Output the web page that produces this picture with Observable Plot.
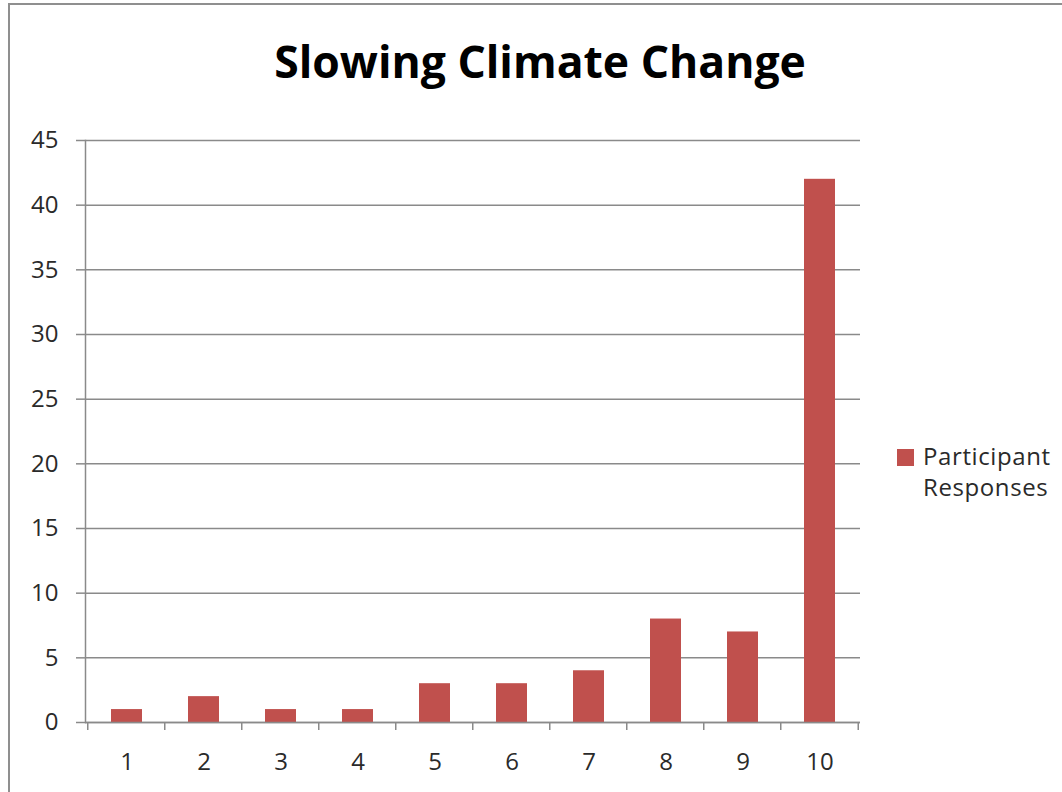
<!DOCTYPE html>
<html>
<head>
<meta charset="utf-8">
<script src="https://cdn.jsdelivr.net/npm/d3@7"></script>
<script src="https://cdn.jsdelivr.net/npm/@observablehq/plot@0.6"></script>
<style>
  html, body { margin: 0; padding: 0; background: #fff; }
  #wrap { position: relative; width: 1062px; height: 792px; overflow: hidden; background: #fff; font-family: "Open Sans", sans-serif; }
  #border { position: absolute; left: 8px; top: 3px; width: 1200px; height: 1000px; border: 2px solid #8f8f8f; box-sizing: border-box; }
  #title { position: absolute; left: 0; width: 1080px; top: 39px; text-align: center; font-size: 44.5px; font-weight: 700; color: #000; line-height: 1; }
  #legend { position: absolute; left: 897px; top: 440px; font-size: 24px; color: #2a2a2a; line-height: 31px; letter-spacing: 0.6px; }
  #legend .sw { position: absolute; left: 0; top: 9px; width: 17px; height: 17px; background: #C0504D; }
  #legend .tx { margin-left: 26px; }
  #chart { position: absolute; left: 0; top: 0; }
</style>
</head>
<body>
<div id="wrap">
  <div id="chart"></div>
  <div id="border"></div>
  <div id="title">Slowing Climate Change</div>
  <div id="legend"><div class="sw"></div><div class="tx">Participant<br>Responses</div></div>
</div>
<script>
const categories = ["1", "2", "3", "4", "5", "6", "7", "8", "9", "10"];
const responses = [1, 2, 1, 1, 3, 3, 4, 8, 7, 42];
const yTicks = [0, 5, 10, 15, 20, 25, 30, 35, 40, 45];
const seriesName = "Participant Responses";

const data = categories.map((c, i) => ({ cat: c, value: responses[i], series: seriesName }));

const W = 1062, H = 792, ML = 85, MR = 202, MT = 140, MB = 70;
const step = (W - ML - MR) / categories.length;
const gray = "#8a8a8a";

// boundary ticks below the x axis (between categories)
const boundaryTicks = (index, scales, values, dims) => {
  const g = d3.create("svg:g");
  const y0 = scales.y(0);
  const xs = categories.map(c => scales.x(c) + scales.x.bandwidth() / 2 - step / 2);
  xs.push(scales.x(categories[categories.length - 1]) + scales.x.bandwidth() / 2 + step / 2);
  for (const x of xs) {
    g.append("line").attr("x1", x).attr("x2", x).attr("y1", y0).attr("y2", y0 + 8)
      .attr("stroke", gray).attr("stroke-width", 1.5);
  }
  return g.node();
};

const chart = Plot.plot({
  width: W,
  height: H,
  marginLeft: ML,
  marginRight: MR,
  marginTop: MT,
  marginBottom: MB,
  style: { fontFamily: "Open Sans, sans-serif", fontSize: "24px", color: "#2a2a2a", background: "transparent" },
  x: { domain: categories, paddingInner: 0.6, paddingOuter: 0.3, label: null },
  y: { domain: [0, 45], label: null },
  marks: [
    Plot.gridY(yTicks, { stroke: gray, strokeOpacity: 1, strokeWidth: 1.5 }),
    Plot.axisY(yTicks, { tickSize: 9, tickPadding: 18, stroke: gray, strokeWidth: 1.5, label: null, fontSize: 24 }),
    Plot.frame({ anchor: "left", stroke: gray, strokeWidth: 1.5 }),
    Plot.barY(data, { x: "cat", y: "value", fill: "#C0504D", title: d => `${d.series}: ${d.value}` }),
    Plot.ruleY([0], { stroke: gray, strokeWidth: 1.5 }),
    boundaryTicks,
    Plot.axisX({ tickSize: 0, tickPadding: 30, label: null, fontSize: 24 })
  ]
});
document.getElementById("chart").appendChild(chart);
</script>
</body>
</html>
